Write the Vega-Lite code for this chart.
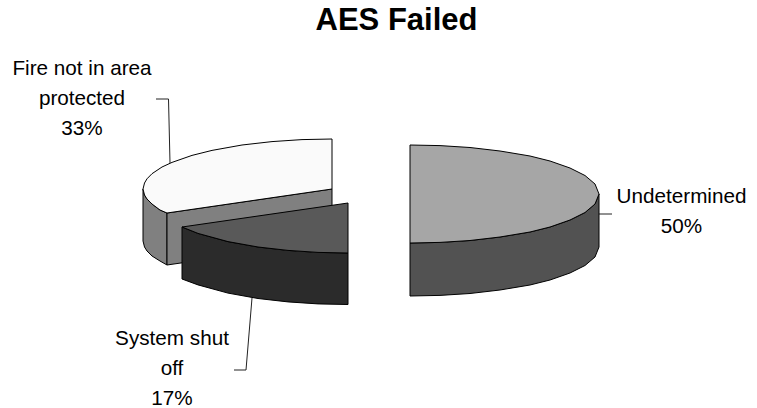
{
"$schema":"https://vega.github.io/schema/vega-lite/v6.json",
"width":757,"height":408,"padding":0,"autosize":"none",
"background":"white",
"view":{"stroke":null},
"title":{"text":"AES Failed","font":"Liberation Sans","fontSize":31,"fontWeight":"bold","color":"black","anchor":"middle","dx":18,"offset":-61,"baseline":"alphabetic"},
"datasets":{
"faces":[
{"face":"Fire side","i":1,"x":143,"y":189},{"face":"Fire side","i":2,"x":144.5,"y":195},{"face":"Fire side","i":3,"x":147,"y":199},{"face":"Fire side","i":4,"x":152,"y":204},{"face":"Fire side","i":5,"x":160,"y":210},{"face":"Fire side","i":6,"x":167,"y":213},{"face":"Fire side","i":7,"x":167,"y":265},{"face":"Fire side","i":8,"x":160,"y":261},{"face":"Fire side","i":9,"x":152,"y":256},{"face":"Fire side","i":10,"x":147,"y":251},{"face":"Fire side","i":11,"x":144.5,"y":247},{"face":"Fire side","i":12,"x":143,"y":241},{"face":"Fire side","i":13,"x":143,"y":189},
{"face":"Fire cut","i":1,"x":167,"y":213},{"face":"Fire cut","i":2,"x":332,"y":189},{"face":"Fire cut","i":3,"x":332,"y":241},{"face":"Fire cut","i":4,"x":167,"y":265},{"face":"Fire cut","i":5,"x":167,"y":213},
{"face":"Fire top","i":1,"x":332,"y":189},{"face":"Fire top","i":2,"x":332,"y":139},{"face":"Fire top","i":3,"x":302,"y":139.6},{"face":"Fire top","i":4,"x":272,"y":141.6},{"face":"Fire top","i":5,"x":242,"y":145},{"face":"Fire top","i":6,"x":212,"y":150.4},{"face":"Fire top","i":7,"x":192,"y":155.4},{"face":"Fire top","i":8,"x":172,"y":162.4},{"face":"Fire top","i":9,"x":162,"y":167},{"face":"Fire top","i":10,"x":152,"y":173.7},{"face":"Fire top","i":11,"x":147,"y":178.8},{"face":"Fire top","i":12,"x":144.5,"y":183},{"face":"Fire top","i":13,"x":143,"y":189},{"face":"Fire top","i":14,"x":144.5,"y":195},{"face":"Fire top","i":15,"x":147,"y":199},{"face":"Fire top","i":16,"x":152,"y":204},{"face":"Fire top","i":17,"x":160,"y":210},{"face":"Fire top","i":18,"x":167,"y":213},{"face":"Fire top","i":19,"x":332,"y":189},
{"face":"Shut side","i":1,"x":182,"y":227},{"face":"Shut side","i":2,"x":198,"y":233.4},{"face":"Shut side","i":3,"x":228,"y":241.6},{"face":"Shut side","i":4,"x":258,"y":247},{"face":"Shut side","i":5,"x":288,"y":250.4},{"face":"Shut side","i":6,"x":318,"y":252.4},{"face":"Shut side","i":7,"x":348,"y":253},{"face":"Shut side","i":8,"x":348,"y":304.5},{"face":"Shut side","i":9,"x":318,"y":303.9},{"face":"Shut side","i":10,"x":288,"y":301.9},{"face":"Shut side","i":11,"x":258,"y":298.5},{"face":"Shut side","i":12,"x":228,"y":293.1},{"face":"Shut side","i":13,"x":198,"y":284.9},{"face":"Shut side","i":14,"x":182,"y":279},{"face":"Shut side","i":15,"x":182,"y":227},
{"face":"Shut top","i":1,"x":348,"y":203},{"face":"Shut top","i":2,"x":348,"y":253},{"face":"Shut top","i":3,"x":318,"y":252.4},{"face":"Shut top","i":4,"x":288,"y":250.4},{"face":"Shut top","i":5,"x":258,"y":247},{"face":"Shut top","i":6,"x":228,"y":241.6},{"face":"Shut top","i":7,"x":198,"y":233.4},{"face":"Shut top","i":8,"x":182,"y":227},{"face":"Shut top","i":9,"x":348,"y":203},
{"face":"Und side","i":1,"x":410,"y":243},{"face":"Und side","i":2,"x":440,"y":242.4},{"face":"Und side","i":3,"x":470,"y":240.5},{"face":"Und side","i":4,"x":500,"y":237},{"face":"Und side","i":5,"x":530,"y":232},{"face":"Und side","i":6,"x":550,"y":227},{"face":"Und side","i":7,"x":570,"y":220},{"face":"Und side","i":8,"x":585,"y":212.5},{"face":"Und side","i":9,"x":595,"y":204},{"face":"Und side","i":10,"x":599,"y":194},{"face":"Und side","i":11,"x":599,"y":247},{"face":"Und side","i":12,"x":595,"y":257},{"face":"Und side","i":13,"x":585,"y":265.5},{"face":"Und side","i":14,"x":570,"y":273},{"face":"Und side","i":15,"x":550,"y":280},{"face":"Und side","i":16,"x":530,"y":285},{"face":"Und side","i":17,"x":500,"y":290},{"face":"Und side","i":18,"x":470,"y":293.5},{"face":"Und side","i":19,"x":440,"y":295.4},{"face":"Und side","i":20,"x":410,"y":296},{"face":"Und side","i":21,"x":410,"y":243},
{"face":"Und top","i":1,"x":410,"y":145},{"face":"Und top","i":2,"x":440,"y":145.6},{"face":"Und top","i":3,"x":470,"y":147.5},{"face":"Und top","i":4,"x":500,"y":151},{"face":"Und top","i":5,"x":530,"y":156},{"face":"Und top","i":6,"x":550,"y":161},{"face":"Und top","i":7,"x":570,"y":168},{"face":"Und top","i":8,"x":585,"y":175.5},{"face":"Und top","i":9,"x":595,"y":184},{"face":"Und top","i":10,"x":599,"y":194},{"face":"Und top","i":11,"x":595,"y":204},{"face":"Und top","i":12,"x":585,"y":212.5},{"face":"Und top","i":13,"x":570,"y":220},{"face":"Und top","i":14,"x":550,"y":227},{"face":"Und top","i":15,"x":530,"y":232},{"face":"Und top","i":16,"x":500,"y":237},{"face":"Und top","i":17,"x":470,"y":240.5},{"face":"Und top","i":18,"x":440,"y":242.4},{"face":"Und top","i":19,"x":410,"y":243},{"face":"Und top","i":20,"x":410,"y":145}
],
"leaders":[
{"slice":"Undetermined","i":1,"x":598,"y":214},{"slice":"Undetermined","i":2,"x":612,"y":214},
{"slice":"Fire","i":1,"x":156,"y":99},{"slice":"Fire","i":2,"x":168.5,"y":99},{"slice":"Fire","i":3,"x":170,"y":163},
{"slice":"System","i":1,"x":234,"y":370},{"slice":"System","i":2,"x":246,"y":370},{"slice":"System","i":3,"x":252,"y":298}
],
"labels":[
{"x":82,"y":75,"text":"Fire not in area"},{"x":82,"y":105,"text":"protected"},{"x":82,"y":135,"text":"33%"},
{"x":681.5,"y":203,"text":"Undetermined"},{"x":681.5,"y":233,"text":"50%"},
{"x":172,"y":345,"text":"System shut"},{"x":172,"y":375,"text":"off"},{"x":172,"y":405,"text":"17%"}
]
},
"encoding":{
"x":{"field":"x","type":"quantitative","scale":{"domain":[0,757],"nice":false,"zero":false},"axis":null},
"y":{"field":"y","type":"quantitative","scale":{"domain":[408,0],"nice":false,"zero":false},"axis":null}
},
"layer":[
{"data":{"name":"leaders"},"mark":{"type":"line","stroke":"#222222","strokeWidth":1,"clip":false},
"encoding":{"detail":{"field":"slice"},"order":{"field":"i","type":"quantitative"}}},
{"data":{"name":"faces"},"mark":{"type":"line","stroke":"black","strokeWidth":1,"strokeJoin":"round"},
"encoding":{"fill":{"field":"face","type":"nominal","legend":null,"sort":null,"scale":{"domain":["Fire side","Fire cut","Fire top","Shut side","Shut top","Und side","Und top"],"range":["#808080","#808080","#fafafa","#2b2b2b","#595959","#525252","#a6a6a6"]}},"order":{"field":"i","type":"quantitative"}}},
{"data":{"name":"labels"},"mark":{"type":"text","font":"Liberation Sans","fontSize":20.7,"color":"black","align":"center","baseline":"alphabetic"},
"encoding":{"text":{"field":"text","type":"nominal"}}}
]
}
